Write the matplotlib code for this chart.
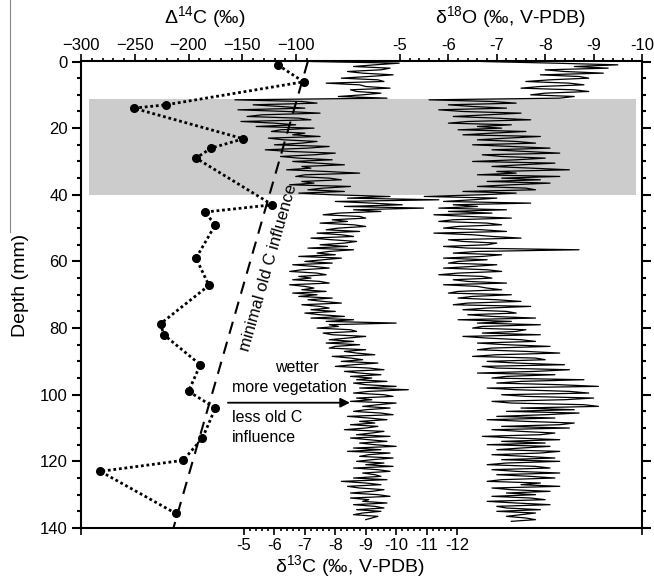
import numpy as np
import matplotlib
matplotlib.use("Agg")
import matplotlib.pyplot as plt
from matplotlib.ticker import FixedLocator, MultipleLocator
from matplotlib.lines import Line2D

plt.rcParams["font.family"] = ["Liberation Sans", "DejaVu Sans"]
plt.rcParams["mathtext.fontset"] = "custom"
plt.rcParams["mathtext.rm"] = "Liberation Sans"
plt.rcParams["mathtext.default"] = "regular"

# ---------------- data ----------------
# radiocarbon (Delta 14C, per mil) vs depth (mm)
c14_depth = [1.0, 6.1, 13.0, 14.0, 23.2, 26.0, 29.0, 43.0, 45.2, 49.0, 59.0,
             67.2, 78.7, 82.0, 91.0, 99.0, 104.0, 113.0, 119.7, 123.0, 135.6]
c14_value = [-117, -93, -221, -251, -149, -179, -193, -122, -185, -175, -193,
             -181, -226, -223, -189, -200, -175, -187, -205, -282, -212]

# "minimal old C influence" guide line
oldc_value = [-89, -214]
oldc_depth = [0, 140]

# stable isotope records, one value every 0.5 mm of depth
d13c = [
    -7.2, -10.1, -9.3, -8.6, -9.8, -9.5, -8.4, -8.9, -9.9, -9.1,
    -8.2, -9.4, -9.6, -7.7, -8.8, -9.0, -9.8, -8.5, -8.7, -9.5,
    -8.9, -8.1, -9.7, -4.7, -6.9, -7.4, -5.3, -6.2, -7.0, -4.8,
    -6.4, -7.5, -5.6, -5.1, -6.8, -7.2, -4.9, -6.0, -6.7, -5.4,
    -7.3, -6.2, -5.9, -7.0, -6.6, -7.5, -5.8, -6.3, -7.4, -6.9,
    -6.0, -7.8, -7.1, -5.7, -6.5, -8.0, -7.3, -6.2, -6.8, -7.9,
    -6.6, -7.4, -8.3, -6.9, -7.2, -6.4, -7.7, -8.8, -7.0, -6.7,
    -7.8, -8.2, -6.9, -7.3, -6.5, -8.5, -7.6, -7.1, -8.3, -6.8,
    -7.9, -9.8, -8.4, -11.4, -8.0, -9.2, -10.2, -8.3, -10.9, -8.6,
    -9.5, -8.1, -7.6, -8.8, -9.0, -7.9, -8.4, -7.5, -8.6, -9.0,
    -8.1, -7.7, -8.8, -7.4, -8.2, -8.6, -7.2, -7.9, -8.7, -8.3,
    -7.5, -8.4, -7.1, -8.6, -7.8, -7.4, -8.0, -6.8, -8.2, -7.6,
    -7.0, -7.9, -6.6, -7.3, -7.8, -6.9, -6.5, -7.4, -7.7, -6.8,
    -7.2, -6.6, -7.5, -7.8, -6.5, -7.0, -7.3, -6.9, -7.7, -6.6,
    -7.4, -6.8, -7.9, -7.1, -7.6, -8.2, -6.9, -7.5, -7.8, -7.2,
    -8.0, -7.0, -7.5, -8.3, -7.2, -8.6, -7.7, -10.0, -7.8, -8.1,
    -7.4, -8.5, -8.7, -7.6, -7.9, -9.0, -8.4, -7.8, -8.6, -7.7,
    -8.8, -8.0, -7.8, -9.0, -8.3, -8.7, -9.3, -7.9, -8.5, -8.9,
    -8.2, -9.4, -8.6, -8.0, -9.1, -9.6, -8.3, -8.8, -9.5, -8.5,
    -9.2, -8.7, -9.7, -8.6, -9.0, -10.0, -8.8, -10.4, -9.1, -8.6,
    -9.6, -9.9, -8.7, -9.2, -8.5, -10.0, -9.4, -8.9, -9.8, -9.0,
    -8.6, -9.5, -9.9, -8.4, -9.1, -9.7, -8.8, -9.3, -8.5, -9.4,
    -9.0, -8.3, -9.6, -9.2, -8.7, -9.8, -8.5, -9.1, -9.7, -8.8,
    -9.3, -10.0, -8.6, -9.5, -8.4, -9.8, -9.1, -8.8, -9.9, -9.2,
    -8.7, -9.6, -9.0, -9.9, -8.6, -9.4, -9.8, -8.9, -9.3, -9.5,
    -8.6, -9.7, -8.2, -9.0, -9.5, -8.4, -8.8, -9.6, -9.2, -8.5,
    -9.4, -9.8, -8.5, -9.1, -8.9, -9.7, -8.6, -9.3, -9.6, -8.7,
    -9.5, -8.9, -8.6, -9.4, -9.2, -9.0,
]

d18o = [
    -6.7, -8.2, -9.5, -8.6, -9.3, -8.0, -8.4, -9.2, -7.9, -8.7,
    -8.9, -8.1, -7.6, -8.5, -8.8, -7.9, -7.5, -8.6, -8.9, -8.0,
    -7.7, -8.6, -8.3, -5.6, -6.9, -7.4, -6.0, -6.5, -7.2, -5.8,
    -6.3, -7.5, -6.8, -6.1, -7.0, -7.7, -6.4, -6.0, -7.3, -6.6,
    -7.1, -6.2, -7.6, -6.9, -6.3, -7.9, -7.2, -6.6, -7.4, -7.8,
    -6.5, -7.3, -8.1, -6.9, -7.6, -8.3, -6.7, -7.1, -8.0, -7.4,
    -6.5, -8.2, -7.5, -6.9, -7.7, -8.5, -7.0, -7.4, -6.6, -8.3,
    -7.1, -7.9, -6.8, -8.1, -7.3, -6.6, -7.6, -7.8, -6.3, -7.4,
    -6.7, -5.5, -7.0, -6.5, -5.9, -7.7, -6.1, -6.6, -5.8, -7.2,
    -6.0, -6.9, -5.7, -6.4, -7.3, -6.1, -5.8, -6.8, -7.1, -6.2,
    -5.9, -6.7, -7.2, -5.7, -6.5, -6.9, -7.5, -6.0, -6.3, -7.0,
    -6.8, -5.9, -6.4, -8.7, -6.6, -6.1, -7.1, -6.7, -5.9, -6.8,
    -6.2, -6.0, -7.0, -6.5, -5.9, -6.8, -7.1, -6.2, -5.8, -6.7,
    -6.9, -6.1, -6.4, -7.2, -5.9, -6.6, -6.8, -7.1, -6.2, -6.0,
    -7.3, -6.5, -6.2, -7.0, -7.5, -6.4, -6.1, -7.7, -6.8, -6.3,
    -7.2, -7.4, -6.4, -6.9, -7.8, -6.2, -7.3, -6.6, -7.9, -6.7,
    -6.5, -7.6, -7.4, -6.7, -7.9, -6.3, -6.8, -7.5, -7.8, -6.6,
    -7.2, -8.1, -6.9, -6.6, -7.6, -8.3, -7.0, -6.5, -7.8, -8.0,
    -6.8, -7.4, -8.4, -6.7, -7.0, -8.5, -7.8, -6.6, -8.2, -7.2,
    -6.9, -8.8, -7.5, -7.0, -8.3, -9.1, -6.8, -7.4, -8.5, -8.9,
    -7.1, -7.6, -9.0, -8.4, -6.9, -7.3, -8.8, -9.1, -7.5, -8.6,
    -7.2, -8.7, -8.0, -7.0, -8.2, -6.8, -7.6, -8.6, -8.3, -7.1,
    -8.5, -6.9, -7.5, -8.2, -7.9, -6.7, -7.4, -8.3, -7.1, -8.0,
    -6.8, -8.1, -7.5, -7.0, -8.3, -7.9, -6.9, -7.6, -8.2, -7.1,
    -8.3, -7.2, -6.8, -7.8, -8.1, -6.9, -7.4, -8.3, -7.0, -7.7,
    -8.2, -7.1, -6.8, -7.9, -7.5, -8.3, -6.9, -7.3, -8.1, -7.2,
    -7.8, -6.9, -7.7, -8.0, -6.8, -7.4, -8.1, -7.0, -7.2, -7.9,
    -7.0, -7.8, -7.5, -7.2, -7.6, -7.8, -7.3,
]

step_mm = 0.5
d13c_depth = np.arange(len(d13c)) * step_mm
d18o_depth = np.arange(len(d18o)) * step_mm

band_top, band_bottom = 11.4, 40.0

# ---------------- layout (figure pixels) ----------------
W, H = 654, 581
L, R, T, B = 81, 642, 61.5, 528

fig = plt.figure(figsize=(W / 100, H / 100), dpi=100)
ax = fig.add_axes([L / W, 1 - B / H, (R - L) / W, (B - T) / H])
ax_o = ax.twiny()
ax_c = ax.twiny()

lw_axis = 1.5
tick_fs = 12
label_fs = 14

# depth axis
ax.set_ylim(140, 0)
ax.yaxis.set_major_locator(MultipleLocator(20))
ax.yaxis.set_minor_locator(MultipleLocator(5))
ax.tick_params(axis="y", which="both", direction="out", left=True, right=True,
               labelleft=True, labelright=False, width=lw_axis, labelsize=tick_fs, pad=3)
ax.tick_params(axis="y", which="major", length=6.5)
ax.tick_params(axis="y", which="minor", length=3)

# Delta 14C axis (top, left part)
ax.set_xlim(-300, -300 + (R - L) / 1.075)
ax.xaxis.set_ticks_position("top")
ax.xaxis.set_major_locator(FixedLocator([-300, -250, -200, -150, -100]))
ax.xaxis.set_minor_locator(FixedLocator([v for v in range(-300, -89, 10) if v % 50 != 0]))
ax.tick_params(axis="x", which="both", direction="out", width=1.2, labelsize=tick_fs, pad=1)
ax.tick_params(axis="x", which="major", length=5)
ax.tick_params(axis="x", which="minor", length=2.5)
ax.spines["bottom"].set_visible(False)
for s in ["left", "right", "top"]:
    ax.spines[s].set_linewidth(lw_axis)

# delta 18O axis (top, right part)
ax_o.set_xlim(-5 + (400 - L) / 48.4, -10)
ax_o.xaxis.set_ticks_position("top")
ax_o.xaxis.set_major_locator(FixedLocator([-5, -6, -7, -8, -9, -10]))
ax_o.xaxis.set_major_formatter(plt.FixedFormatter(["-5", "-6", "-7", "-8", "-9", "-10"]))
ax_o.xaxis.set_minor_locator(FixedLocator(np.round(np.arange(-5, -10.01, -0.2), 2)))
ax_o.tick_params(axis="x", which="both", direction="out", width=1.2, labelsize=tick_fs, pad=1)
ax_o.tick_params(axis="x", which="major", length=5)
ax_o.tick_params(axis="x", which="minor", length=2.5)
for s in ax_o.spines.values():
    s.set_visible(False)

# delta 13C axis (bottom)
c_left = -5 + (244 - L) / 30.43
c_right = -12 - (R - 457) / 30.43
ax_c.set_xlim(c_left, c_right)
ax_c.xaxis.set_ticks_position("bottom")
c_major = [c_left - 0.01, -5, -6, -7, -8, -9, -10, -11, -12, c_right + 0.01]
ax_c.xaxis.set_major_locator(FixedLocator(c_major))
ax_c.xaxis.set_major_formatter(plt.FixedFormatter(["", "-5", "-6", "-7", "-8", "-9",
                                                   "-10", "-11", "-12", ""]))
ax_c.xaxis.set_minor_locator(FixedLocator(np.round(np.arange(-5, -12.01, -0.2), 2)))
ax_c.tick_params(axis="x", which="both", direction="out", width=1.2, labelsize=tick_fs, pad=2)
ax_c.tick_params(axis="x", which="major", length=5)
ax_c.tick_params(axis="x", which="minor", length=2.5)
for s in ["top", "left", "right"]:
    ax_c.spines[s].set_visible(False)
ax_c.spines["bottom"].set_linewidth(lw_axis)

# ---------------- marks ----------------
ax.axhspan(band_top, band_bottom, xmin=(89 - L) / (R - L), xmax=(636 - L) / (R - L),
           color="#cccccc", lw=0, zorder=0)

ax.plot(oldc_value, oldc_depth, color="black", lw=1.5, ls=(0, (6, 4)), zorder=3)
ax.plot(c14_value, c14_depth, color="black", lw=2, ls=(0, (1, 1)),
        marker="o", ms=5.5, zorder=4)

ax_c.plot(d13c, d13c_depth, color="black", lw=0.9)
ax_o.plot(d18o, d18o_depth, color="black", lw=0.9)

# ---------------- text ----------------
ax.text(0.221, 1.095, "Δ$^{14}$C (‰)", transform=ax.transAxes,
        ha="center", va="center", fontsize=label_fs)
ax.text(0.765, 1.095, "δ$^{18}$O (‰, V-PDB)", transform=ax.transAxes,
        ha="center", va="center", fontsize=label_fs)
ax.text(0.4795, -0.0815, "δ$^{13}$C (‰, V-PDB)", transform=ax.transAxes,
        ha="center", va="center", fontsize=label_fs)
ax.text(-0.108, 0.521, "Depth (mm)", transform=ax.transAxes, rotation=90,
        ha="center", va="center", fontsize=label_fs)

ax.text(-126, 62, "minimal old C influence", rotation=74, rotation_mode="anchor",
        ha="center", va="center", fontsize=12)

ax.text(-99, 91.9, "wetter", ha="center", va="center", fontsize=11.5)
ax.text(-159.5, 97.9, "more vegetation", ha="left", va="center", fontsize=11.5)
ax.text(-159.5, 106.9, "less old C", ha="left", va="center", fontsize=11.5)
ax.text(-159.5, 112.9, "influence", ha="left", va="center", fontsize=11.5)
ax.annotate("", xy=(-49.8, 102.4), xytext=(-163.3, 102.4),
            arrowprops=dict(arrowstyle="-|>", color="black", lw=1.3,
                            mutation_scale=14, shrinkA=0, shrinkB=0))

# thin frame edge on the far left of the original figure
fig.add_artist(Line2D([10 / W, 10 / W], [1, 1 - 232 / H], color="#888888", lw=0.8))

fig.savefig("out.png", dpi=100)
